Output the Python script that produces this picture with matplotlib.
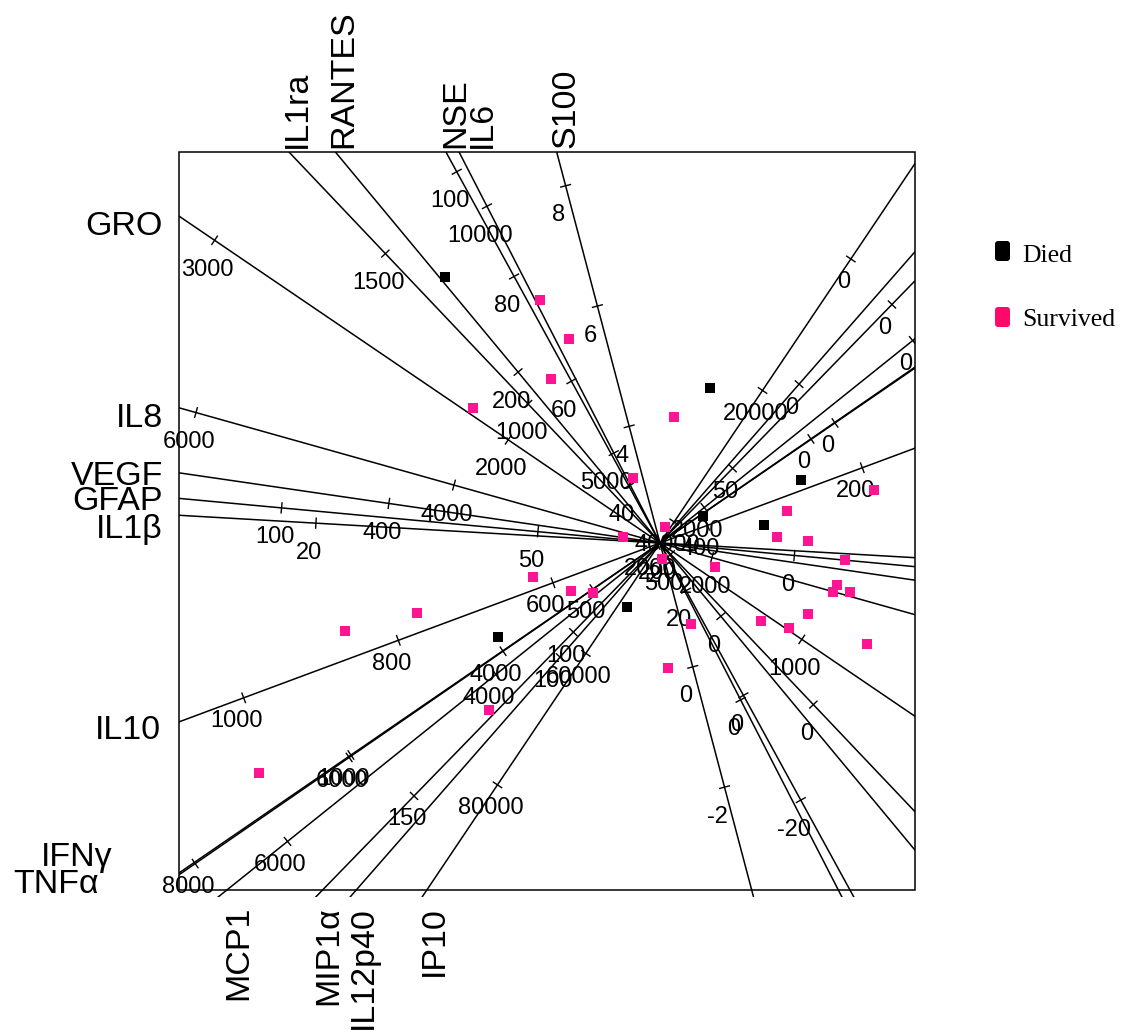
import numpy as np
import matplotlib
matplotlib.use("Agg")
import matplotlib.pyplot as plt
from matplotlib.patches import Rectangle, FancyBboxPatch

plt.rcParams["font.family"] = ["Liberation Sans", "DejaVu Sans"]

# ---------------------------------------------------------------------------
# Calibrated biplot axes: one per measured variable
# ---------------------------------------------------------------------------
variables = ["GRO", "IL8", "VEGF", "GFAP", "IL1β", "IL10", "IFNγ", "TNFα",
             "IL1ra", "RANTES", "NSE", "IL6", "S100",
             "MCP1", "MIP1α", "IL12p40", "IP10"]

# direction of increasing values (degrees, counter-clockwise from +x)
axis_angle = [145.8, 164.3, 171.7, 174.7, 176.7, 200.4, 214.6, 214.45,
              133.5, 129.7, 118.7, 117.2, 104.8,
              218.7, 225.8, 228.8, 236.1]

# value of each variable found at the biplot origin
axis_centre = [1483, 2403, 203.6, 26.2, 9.23, 461.6, 1961, 361.5,
               537.5, 60, 29.1, 3178, 2.06,
               2425, 72.8, 58.2, 43207]

# plot units per unit of the variable
axis_scale = [0.00355, 0.00134, 0.01395, 0.0515, 0.32, 0.00825, 0.000935, 0.00587,
              0.004145, 0.01587, 0.0597, 0.000555, 0.622,
              0.001335, 0.0457, 0.03628, 0.0000792]

axis_ticks = [[1000, 2000, 3000], [2000, 4000, 6000], [200, 400], [0, 50, 100], [20],
              [200, 400, 600, 800, 1000], [0, 2000, 4000, 6000, 8000], [0, 500, 1000],
              [0, 500, 1000, 1500], [0, 200], [-20, 0, 20, 40, 60, 80, 100],
              [0, 5000, 10000], [-2, 0, 2, 4, 6, 8],
              [0, 2000, 4000, 6000], [0, 50, 100, 150], [0, 100],
              [0, 20000, 40000, 60000, 80000]]

# ---------------------------------------------------------------------------
# Patient scores
# ---------------------------------------------------------------------------
died_x = [-2.15, 0.50, 1.41, 0.43, 1.04, -0.33, -1.62]
died_y = [2.66, 1.55, 0.63, 0.27, 0.18, -0.64, -0.94]

surv_x = [-1.20, -0.91, -1.09, -1.87, 0.14, -0.27, 2.14, 1.27, 0.05, -0.37,
          1.17, 1.48, 0.02, 1.85, 0.55, -1.27, -0.89, -0.67, 1.77, 1.73,
          1.90, -2.43, 1.48, 1.01, 1.29, 0.31, -3.15, 2.07, 0.08, -1.71, -4.01]
surv_y = [2.43, 2.04, 1.64, 1.35, 1.26, 0.65, 0.53, 0.32, 0.16, 0.06,
          0.06, 0.02, -0.16, -0.17, -0.24, -0.34, -0.48, -0.50, -0.42, -0.49,
          -0.49, -0.70, -0.71, -0.78, -0.85, -0.81, -0.88, -1.01, -1.25, -1.67, -2.30]

group_names = ["Died", "Survived"]

# ---------------------------------------------------------------------------
# Layout (figure pixels)
# ---------------------------------------------------------------------------
W, H, DPI = 1132, 1031, 100
BOX_L, BOX_R, BOX_T, BOX_B = 179, 915, 152, 890
CLIP_B = 897
ORIGIN_PX = (660, 543)
PX_PER_UNIT = 100.0

COL_DIED = "#000000"
COL_SURV = "#FF1493"
COL_SURV_KEY = "#FF0A6A"

# where each variable name sits: (x, y, kind)
name_layout = {
    "GRO": (163, 235, "left"), "IL8": (163, 427, "left"),
    "VEGF": (163, 485, "left"), "GFAP": (163, 510, "left"),
    "IL1β": (163, 538, "left"), "IL10": (161, 739, "left"),
    "IFNγ": (113, 866, "left"), "TNFα": (99, 893, "left"),
    "IL1ra": (306, 148, "top"), "RANTES": (352, 148, "top"),
    "NSE": (464, 148, "top"), "IL6": (491, 148, "top"),
    "S100": (574, 148, "top"),
    "MCP1": (247, 906, "bottom"), "MIP1α": (337, 906, "bottom"),
    "IL12p40": (372, 906, "bottom"), "IP10": (443, 906, "bottom"),
}

fig = plt.figure(figsize=(W / DPI, H / DPI), dpi=DPI)
fig.patch.set_facecolor("white")

ax = fig.add_axes([BOX_L / W, 1 - CLIP_B / H, (BOX_R - BOX_L) / W, (CLIP_B - BOX_T) / H])
ax.set_xlim((BOX_L - ORIGIN_PX[0]) / PX_PER_UNIT, (BOX_R - ORIGIN_PX[0]) / PX_PER_UNIT)
ax.set_ylim((ORIGIN_PX[1] - CLIP_B) / PX_PER_UNIT, (ORIGIN_PX[1] - BOX_T) / PX_PER_UNIT)
ax.set_axis_off()

LINE_W = 1.1
TICK_HALF = 0.05
for name, ang, c, k, ticks in zip(variables, axis_angle, axis_centre, axis_scale, axis_ticks):
    ux, uy = np.cos(np.radians(ang)), np.sin(np.radians(ang))
    reach = 12.0
    ax.plot([-reach * ux, reach * ux], [-reach * uy, reach * uy],
            color="black", lw=LINE_W, solid_capstyle="butt", zorder=2)
    nx, ny = -uy, ux
    label_drop = 0.355 if ux * uy < 0 else 0.295
    for t in ticks:
        s = (t - c) * k
        x, y = s * ux, s * uy
        ax.plot([x - TICK_HALF * nx, x + TICK_HALF * nx],
                [y - TICK_HALF * ny, y + TICK_HALF * ny],
                color="black", lw=1.0, zorder=2)
        ax.text(x - 0.07, y - label_drop, f"{t:g}", ha="center", va="baseline",
                fontsize=17, color="black", zorder=3)

ax.plot(surv_x, surv_y, ls="none", marker="s", ms=6.8, mew=0, color=COL_SURV, zorder=5)
ax.plot(died_x, died_y, ls="none", marker="s", ms=6.8, mew=0, color=COL_DIED, zorder=5)

# overlay in figure pixels for the frame, variable names and key
ov = fig.add_axes([0, 0, 1, 1])
ov.set_xlim(0, W)
ov.set_ylim(H, 0)
ov.set_axis_off()
ov.patch.set_visible(False)

ov.add_patch(Rectangle((BOX_L, BOX_T), BOX_R - BOX_L, BOX_B - BOX_T,
                       fill=False, ec="black", lw=1.1))

for name in variables:
    x, y, kind = name_layout[name]
    if kind == "left":
        ov.text(x, y, name, ha="right", va="baseline", fontsize=24.5)
    elif kind == "top":
        ov.text(x, y, name, ha="left", va="baseline", rotation=90,
                rotation_mode="anchor", fontsize=24.5)
    else:
        ov.text(x, y, name, ha="right", va="baseline", rotation=90,
                rotation_mode="anchor", fontsize=24.5)

key_rows = [(241, 262, COL_DIED), (307, 326, COL_SURV_KEY)]
for label, (top, base, col) in zip(group_names, key_rows):
    ov.add_patch(FancyBboxPatch((995, top), 15, 20,
                                boxstyle="round,pad=0,rounding_size=3",
                                fc=col, ec="none"))
    ov.text(1022, base, label, ha="left", va="baseline", fontsize=18.5,
            family=["Liberation Serif", "DejaVu Serif"])

fig.savefig("out.png", dpi=DPI, facecolor="white")
